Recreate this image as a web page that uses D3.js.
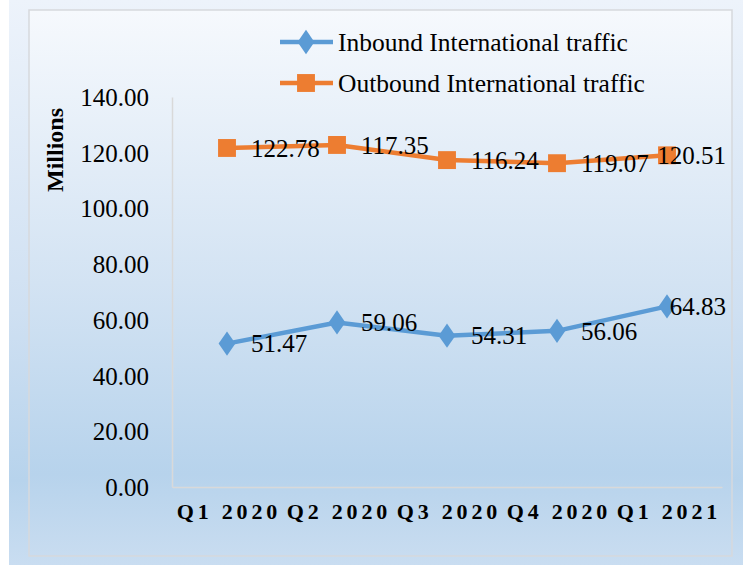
<!DOCTYPE html>
<html>
<head>
<meta charset="utf-8">
<script src="https://cdn.jsdelivr.net/npm/d3@7"></script>
<style>
  body { margin: 0; background: #ffffff; }
  svg { display: block; }
  text { font-family: "Liberation Serif", "Times New Roman", serif; fill: #000; }
</style>
</head>
<body>
<svg id="chart"></svg>
<script>
const quarters = ["Q1 2020", "Q2 2020", "Q3 2020", "Q4 2020", "Q1 2021"];
const inboundValues = [51.47, 59.06, 54.31, 56.06, 64.83];
const inboundLabels = ["51.47", "59.06", "54.31", "56.06", "64.83"];
// outbound markers as drawn in the picture; the printed labels sit one step ahead of them
const outboundValues = [121.7, 122.78, 117.35, 116.24, 119.07];
const outboundLabels = ["122.78", "117.35", "116.24", "119.07", "120.51"];
const yTicks = [0, 20, 40, 60, 80, 100, 120, 140];

const width = 743, height = 565;
const plot = { left: 172, right: 722, top: 97, bottom: 487 };

const svg = d3.select("#chart").attr("width", width).attr("height", height);

// background gradients
const defs = svg.append("defs");
const outerGrad = defs.append("linearGradient").attr("id", "outerGrad")
  .attr("x1", 0).attr("y1", 0).attr("x2", 0).attr("y2", 1);
outerGrad.append("stop").attr("offset", "0%").attr("stop-color", "#edf3fb");
outerGrad.append("stop").attr("offset", "55%").attr("stop-color", "#cfe0f2");
outerGrad.append("stop").attr("offset", "85%").attr("stop-color", "#b7d3ec");
outerGrad.append("stop").attr("offset", "100%").attr("stop-color", "#c9ddf1");

const innerGrad = defs.append("linearGradient").attr("id", "innerGrad")
  .attr("x1", 0).attr("y1", 0).attr("x2", 0).attr("y2", 1);
innerGrad.append("stop").attr("offset", "0%").attr("stop-color", "#f6f9fd");
innerGrad.append("stop").attr("offset", "50%").attr("stop-color", "#d3e3f3");
innerGrad.append("stop").attr("offset", "85%").attr("stop-color", "#b7d3ec");
innerGrad.append("stop").attr("offset", "100%").attr("stop-color", "#c8dcf0");

svg.append("rect").attr("x", 9).attr("y", 0).attr("width", width - 9).attr("height", height)
  .attr("fill", "url(#outerGrad)");
svg.append("rect").attr("x", 29).attr("y", 10).attr("width", 703).attr("height", 546)
  .attr("fill", "url(#innerGrad)")
  .attr("stroke", "#d6d9dd").attr("stroke-width", 1.5);

// scales
const x = d3.scaleBand().domain(quarters).range([plot.left, plot.right]);
const xc = d => x(d) + x.bandwidth() / 2;
const y = d3.scaleLinear().domain([0, 140]).range([plot.bottom, plot.top]);

// y axis
const yAxis = svg.append("g")
  .attr("transform", `translate(${plot.left},0)`)
  .call(d3.axisLeft(y).tickValues(yTicks).tickFormat(d3.format(".2f")).tickSize(0).tickPadding(23));
yAxis.select(".domain").attr("stroke", "#d9d9d9").attr("stroke-width", 1.5);
yAxis.selectAll("text")
  .style("font-family", "'Liberation Serif', serif")
  .style("font-size", "25px")
  .attr("dy", "0.34em");

// x axis
const xAxis = svg.append("g")
  .attr("transform", `translate(0,${plot.bottom})`)
  .call(d3.axisBottom(x).tickSize(0).tickPadding(16));
xAxis.select(".domain").attr("stroke", "#d9d9d9").attr("stroke-width", 1.5);
xAxis.selectAll("text")
  .style("font-family", "'Liberation Serif', serif")
  .style("font-size", "22px")
  .style("font-weight", "bold")
  .style("letter-spacing", "3.8px")
  .attr("dx", "1.9px");

// axis title
svg.append("text")
  .attr("transform", "translate(63,150) rotate(-90)")
  .attr("text-anchor", "middle")
  .style("font-size", "24px")
  .style("font-weight", "bold")
  .text("Millions");

const line = d3.line().x((d, i) => xc(quarters[i])).y(d => y(d));

const series = [
  { name: "Inbound International traffic", values: inboundValues, labels: inboundLabels, color: "#5b9bd5", marker: d3.symbolDiamond, size: 170 },
  { name: "Outbound International traffic", values: outboundValues, labels: outboundLabels, color: "#ed7d31", marker: d3.symbolSquare, size: 320 }
];

series.forEach(s => {
  svg.append("path")
    .datum(s.values)
    .attr("d", line)
    .attr("fill", "none")
    .attr("stroke", s.color)
    .attr("stroke-width", 4.5)
    .attr("stroke-linejoin", "round");

  svg.selectAll(null)
    .data(s.values)
    .join("path")
    .attr("transform", (d, i) => `translate(${xc(quarters[i])},${y(d)})` + (s.marker === d3.symbolDiamond ? " scale(1.2,1)" : ""))
    .attr("d", d3.symbol().type(s.marker).size(s.size))
    .attr("fill", s.color);

  svg.selectAll(null)
    .data(s.values)
    .join("text")
    .attr("y", d => y(d))
    .attr("dy", "0.35em")
    .style("font-size", "25px")
    .text((d, i) => s.labels[i])
    .attr("x", function (d, i) {
      const w = this.getComputedTextLength();
      return Math.min(xc(quarters[i]) + 24, 726 - w);
    });
});

// legend
const legend = svg.append("g");
series.forEach((s, i) => {
  const ly = 42 + i * 41;
  legend.append("line")
    .attr("x1", 280).attr("x2", 333).attr("y1", ly).attr("y2", ly)
    .attr("stroke", s.color).attr("stroke-width", 4.5);
  legend.append("path")
    .attr("transform", `translate(306,${ly})` + (s.marker === d3.symbolDiamond ? " scale(1.2,1)" : ""))
    .attr("d", d3.symbol().type(s.marker).size(s.size))
    .attr("fill", s.color);
  legend.append("text")
    .attr("x", 338).attr("y", ly).attr("dy", "0.35em")
    .style("font-size", "25.5px")
    .text(s.name);
});
</script>
</body>
</html>
